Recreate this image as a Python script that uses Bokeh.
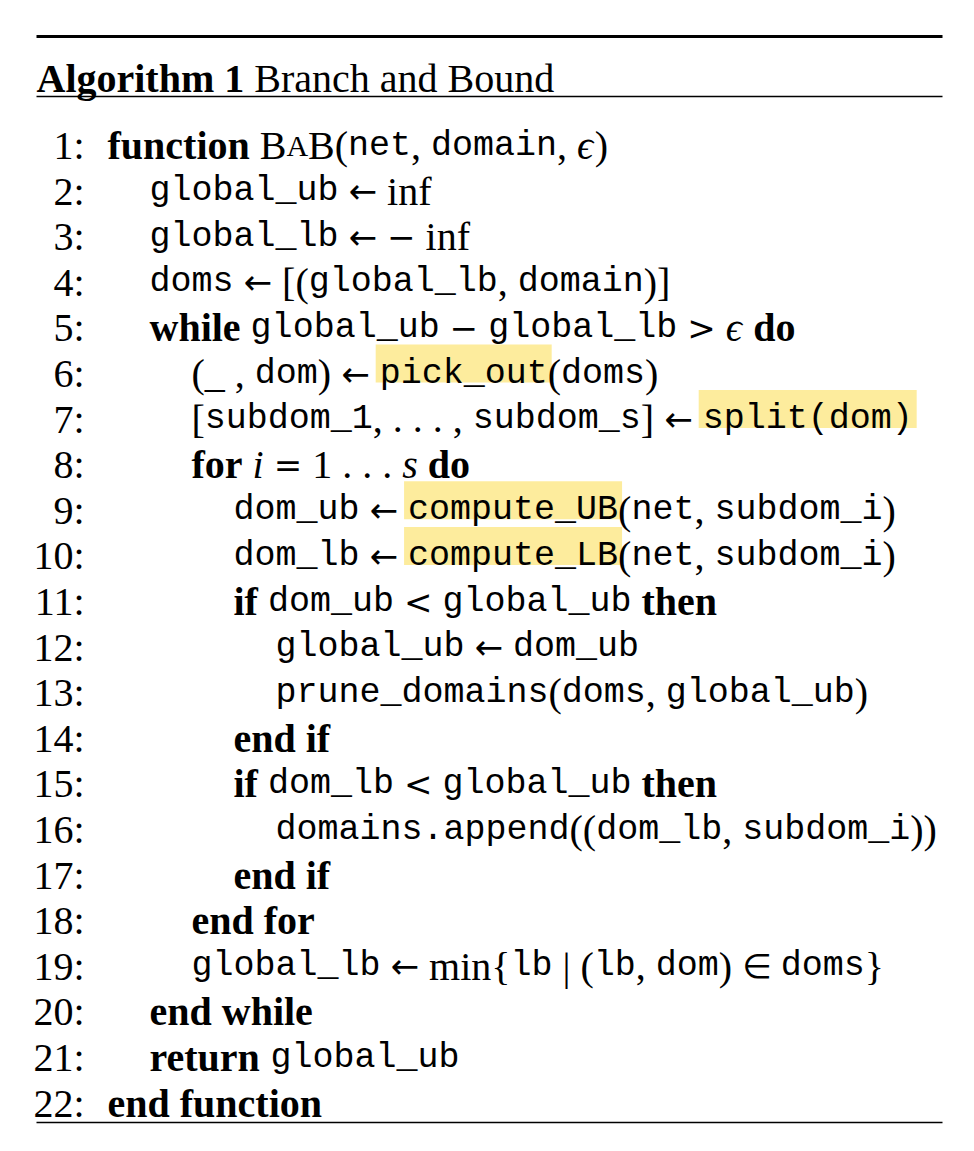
from bokeh.plotting import figure
from bokeh.models import Range1d
from bokeh.embed import file_html
from bokeh.resources import INLINE
from bokeh.core.properties import value

title_bold = "Algorithm 1"
title_rest = "Branch and Bound"

indents = [0,1,1,1,1,2,2,2,3,3,3,4,4,3,3,4,3,2,2,1,1,0]
lines = [
 [("kw","function"),("rm"," "),("sc","BAB"),("rm","("),("tt","net"),("rm",", "),("tt","domain"),("rm",", "),("it","ϵ"),("rm",")")],
 [("tt","global_ub"),("rm"," ← inf")],
 [("tt","global_lb"),("rm"," ← − inf")],
 [("tt","doms"),("rm"," ← [("),("tt","global_lb"),("rm",", "),("tt","domain"),("rm",")]")],
 [("kw","while"),("rm"," "),("tt","global_ub"),("rm"," − "),("tt","global_lb"),("rm"," > "),("it","ϵ"),("rm"," "),("kw","do")],
 [("rm","(_ , "),("tt","dom"),("rm",") ← "),("hl","pick_out"),("rm","("),("tt","doms"),("rm",")")],
 [("rm","["),("tt","subdom_1"),("rm",", . . . , "),("tt","subdom_s"),("rm","] ← "),("hl","split(dom)")],
 [("kw","for"),("rm"," "),("it","i"),("rm"," = 1 . . . "),("it","s"),("rm"," "),("kw","do")],
 [("tt","dom_ub"),("rm"," ← "),("hl","compute_UB"),("rm","("),("tt","net"),("rm",", "),("tt","subdom_i"),("rm",")")],
 [("tt","dom_lb"),("rm"," ← "),("hl","compute_LB"),("rm","("),("tt","net"),("rm",", "),("tt","subdom_i"),("rm",")")],
 [("kw","if"),("rm"," "),("tt","dom_ub"),("rm"," < "),("tt","global_ub"),("rm"," "),("kw","then")],
 [("tt","global_ub"),("rm"," ← "),("tt","dom_ub")],
 [("tt","prune_domains"),("rm","("),("tt","doms"),("rm",", "),("tt","global_ub"),("rm",")")],
 [("kw","end if")],
 [("kw","if"),("rm"," "),("tt","dom_lb"),("rm"," < "),("tt","global_ub"),("rm"," "),("kw","then")],
 [("tt","domains.append"),("rm","(("),("tt","dom_lb"),("rm",", "),("tt","subdom_i"),("rm","))")],
 [("kw","end if")],
 [("kw","end for")],
 [("tt","global_lb"),("rm"," ← min{"),("tt","lb"),("rm"," | ("),("tt","lb"),("rm",", "),("tt","dom"),("rm",") ∈ "),("tt","doms"),("rm","}")],
 [("kw","end while")],
 [("kw","return"),("rm"," "),("tt","global_ub")],
 [("kw","end function")],
]

SERIF = "Liberation Serif"
MONO = "Liberation Mono"
SYMF = "DejaVu Sans"
FS = 40
TTS = 35
SYS = 34
SYMS = set("←∈−<>=")

RM = dict(a=444,b=500,c=444,d=500,e=444,f=333,g=500,h=500,i=278,j=278,k=500,l=278,m=778,n=500,o=500,p=500,
          q=500,r=333,s=389,t=278,u=500,v=500,w=722,x=500,y=500,z=444)
RM.update({"(":333,")":333,",":250,".":250,"[":333,"]":333,"{":480,"}":480,"|":200,"_":500,"ϵ":440,":":278,
           "B":667,"A":722,"1":500})
KW = dict(a=500,b=556,c=444,d=556,e=444,f=333,h=556,i=278,l=278,n=556,o=500,r=444,s=389,t=333,u=556,w=722,
          g=500,m=833,A=722)
SPACE = 0.25 * FS

def width(style, s):
    if style in ("tt","hl"):
        return len(s) * 0.6 * TTS
    if style == "sym":
        return len(s) * 0.84 * SYS
    tab = KW if style == "kw" else RM
    return sum(SPACE if ch == " " else tab.get(ch, 500) / 1000 * FS for ch in s)

W, H = 958, 1135
p = figure(width=W, height=H, x_range=Range1d(0, W), y_range=Range1d(H, 0),
           output_backend="svg", toolbar_location=None, min_border=0)
p.axis.visible = False
p.grid.visible = False
p.outline_line_color = None
p.background_fill_color = "white"

p.segment(x0=[36,36,36], y0=[36,96,1122], x1=[942,942,942], y1=[36,96,1122],
          line_color="black", line_width=[3,1.5,1.5])

p.text(x=[36], y=[78], text=[title_bold], text_font=value(SERIF), text_font_style="bold",
       text_font_size=f"{FS}px", text_baseline="alphabetic", text_color="black")
p.text(x=[36 + width("kw", title_bold) + SPACE], y=[78], text=[title_rest], text_font=value(SERIF),
       text_font_size=f"{FS}px", text_baseline="alphabetic", text_color="black")

recs = {k: dict(x=[], y=[], t=[]) for k in ("kw","rm","it","tt","sc","scs","sym")}
hl = dict(l=[], r=[], t=[], b=[])
base0, step = 145, 45.6

def put(style, x, y, s):
    recs[style]["x"].append(x); recs[style]["y"].append(y); recs[style]["t"].append(s)

for n, (ind, segs) in enumerate(zip(indents, lines)):
    yb = base0 + n * step
    x = 107 + ind * 42
    for style, s in segs:
        if style == "sc":
            for ch in s:
                if ch == "A":
                    put("scs", x, yb, ch); x += 722/1000*FS*0.75
                else:
                    put("sc", x, yb, ch); x += 667/1000*FS
            continue
        if style == "hl":
            w = width(style, s)
            hl["l"].append(x-4); hl["r"].append(x+w+4); hl["t"].append(yb-29); hl["b"].append(yb+9)
            put("tt", x, yb, s); x += w
            continue
        if style in ("tt",):
            put("tt", x, yb, s); x += width("tt", s)
            continue
        # split rm/it/kw into runs: spaces, symbols, words
        run = ""
        def flush():
            global x, run
            if run:
                put(style, x, yb, run); x += width(style, run); run = ""
        for ch in s:
            if ch == " " and style != "kw":
                flush(); x += SPACE
            elif ch in SYMS:
                flush(); put("sym", x, yb, ch); x += width("sym", ch)
            else:
                run += ch
        flush()

p.quad(left=hl["l"], right=hl["r"], top=hl["t"], bottom=hl["b"], fill_color="#fde98c",
       fill_alpha=0.85, line_color=None)

nums = [f"{i+1}:" for i in range(len(lines))]
p.text(x=[84]*len(nums), y=[base0 + i*step for i in range(len(nums))], text=nums,
       text_font=value(SERIF), text_font_size=f"{FS}px", text_align="right",
       text_baseline="alphabetic", text_color="black")

styles = {"kw": (SERIF, "bold", FS), "rm": (SERIF, "normal", FS), "it": (SERIF, "italic", FS),
          "tt": (MONO, "normal", TTS), "sc": (SERIF, "normal", FS), "scs": (SERIF, "normal", FS*0.75),
          "sym": (SYMF, "normal", SYS)}
for k, (font, st, size) in styles.items():
    r = recs[k]
    if not r["x"]:
        continue
    p.text(x=r["x"], y=r["y"], text=r["t"], text_font=value(font), text_font_style=st,
           text_font_size=f"{size}px", text_baseline="alphabetic", text_color="black")

open("out.html", "w").write(file_html(p, INLINE))
